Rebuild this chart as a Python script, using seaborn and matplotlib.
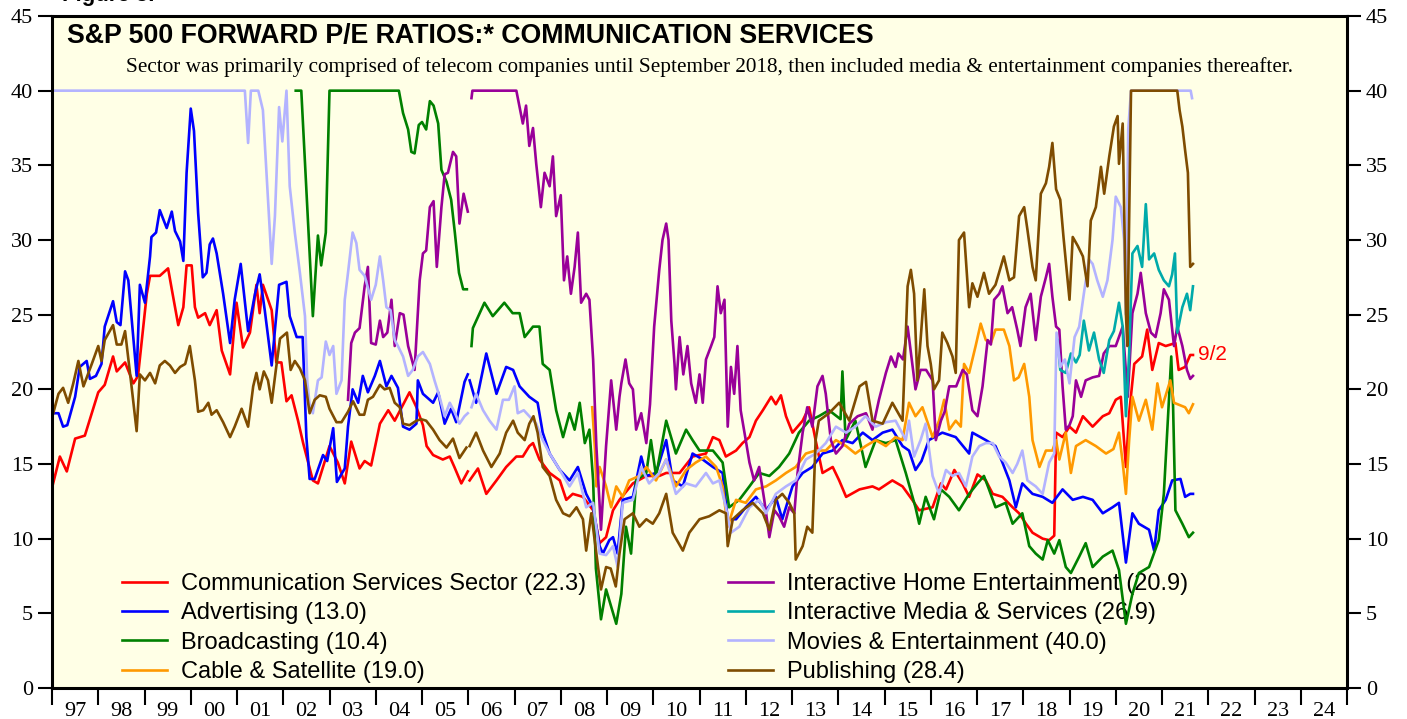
import numpy as np
import pandas as pd
import matplotlib
matplotlib.use("Agg")
import matplotlib.pyplot as plt
import seaborn as sns

nan = np.nan

# --- data (decimal year, forward P/E, capped at 40) ---
comm_t = [1997.0, 1997.17, 1997.32, 1997.5, 1997.71, 1998.0, 1998.14, 1998.32, 1998.4, 1998.58, 1998.76, 1998.86,
          1999.05, 1999.12, 1999.33, 1999.51, 1999.59, 1999.73, 1999.84, 1999.91, 2000.02, 2000.09, 2000.16, 2000.31,
          2000.41, 2000.56, 2000.67, 2000.85, 2000.99, 2001.13, 2001.28, 2001.42, 2001.49, 2001.56, 2001.75, 2001.85,
          2001.96, 2002.07, 2002.18, 2002.32, 2002.43, 2002.64, 2002.75, 2003.0, 2003.18, 2003.33, 2003.47, 2003.65,
          2003.76, 2003.9, 2004.09, 2004.27, 2004.41, 2004.73, 2004.88, 2005.02, 2005.1, 2005.24, 2005.45, 2005.6,
          2005.7, 2005.85, 2005.99, 2006.01, 2006.03, 2006.21, 2006.39, 2006.61, 2006.82, 2007.04, 2007.18, 2007.32,
          2007.4, 2007.54, 2007.76, 2007.98, 2008.12, 2008.26, 2008.48, 2008.7, 2008.84, 2008.98, 2009.13, 2009.27,
          2009.56, 2009.85, 2010.13, 2010.28, 2010.57, 2010.85, 2011.14, 2011.29, 2011.43, 2011.57, 2011.79, 2011.93,
          2012.08, 2012.22, 2012.37, 2012.55, 2012.65, 2012.76, 2012.87, 2013.01, 2013.23, 2013.37, 2013.51, 2013.66,
          2013.88, 2014.02, 2014.17, 2014.46, 2014.74, 2014.88, 2015.17, 2015.39, 2015.6, 2015.75, 2016.04, 2016.22,
          2016.33, 2016.51, 2016.69, 2016.83, 2017.01, 2017.19, 2017.34, 2017.55, 2017.77, 2017.91, 2018.06, 2018.2,
          2018.42, 2018.56, 2018.67, 2018.71, 2018.85, 2019.0, 2019.14, 2019.29, 2019.5, 2019.72, 2019.86, 2020.0,
          2020.11, 2020.22, 2020.29, 2020.4, 2020.57, 2020.68, 2020.79, 2020.93, 2021.08, 2021.29, 2021.36, 2021.5,
          2021.61, 2021.67]
comm_v = [13.4, 15.5, 14.5, 16.7, 16.9, 19.8, 20.3, 22.2, 21.2, 21.8, 20.4, 20.9,
          26.4, 27.6, 27.6, 28.1, 26.7, 24.3, 25.5, 28.3, 28.3, 25.5, 24.8, 25.1,
          24.3, 25.3, 22.6, 21.0, 25.8, 22.8, 23.8, 27.0, 25.1, 27.0, 25.3, 21.8,
          21.8, 19.2, 19.6, 17.9, 16.4, 13.9, 13.7, 16.2, 15.1, 13.7, 16.5, 14.7,
          15.2, 14.9, 17.7, 18.6, 17.9, 19.8, 18.8, 17.6, 16.2, 15.6, 15.3, 15.5,
          14.8, 13.7, 14.5, nan, 13.9, 14.7, 13.0, 13.9, 14.8, 15.5, 15.5, 16.2,
          16.4, 15.3, 14.4, 13.9, 12.6, 13.0, 12.8, 11.9, 9.7, 10.1, 11.9, 12.6,
          13.7, 14.2, 14.2, 14.4, 14.4, 15.5, 15.7, 16.8, 16.6, 15.5, 15.9, 16.4,
          16.8, 17.9, 18.6, 19.5, 19.0, 19.6, 18.2, 17.1, 17.9, 18.8, 16.6, 14.4,
          14.8, 13.9, 12.8, 13.3, 13.5, 13.3, 13.9, 13.5, 12.6, 11.9, 12.1, 13.7,
          13.3, 14.6, 13.7, 12.8, 14.3, 13.9, 13.0, 12.8, 12.1, 11.7, 11.0, 10.4,
          10.0, 9.9, 10.2, 17.1, 16.8, 17.5, 17.1, 18.2, 17.5, 18.2, 18.4, 19.3,
          19.5, 14.8, 18.4, 21.7, 22.2, 24.0, 21.3, 23.1, 22.9, 23.1, 21.3, 21.5,
          22.3, 22.3]

adv_t = [1997.0, 1997.14, 1997.24, 1997.33, 1997.5, 1997.6, 1997.75, 1997.82, 1997.95, 1998.07, 1998.14, 1998.32,
         1998.4, 1998.48, 1998.58, 1998.65, 1998.83, 1998.9, 1999.01, 1999.12, 1999.15, 1999.25, 1999.33, 1999.48,
         1999.59, 1999.66, 1999.77, 1999.84, 1999.91, 2000.0, 2000.07, 2000.16, 2000.26, 2000.34, 2000.41, 2000.48,
         2000.56, 2000.7, 2000.85, 2000.95, 2001.08, 2001.24, 2001.39, 2001.49, 2001.6, 2001.75, 2001.91, 2002.07,
         2002.14, 2002.29, 2002.42, 2002.5, 2002.57, 2002.68, 2002.86, 2002.95, 2003.08, 2003.16, 2003.33, 2003.4,
         2003.5, 2003.62, 2003.72, 2003.83, 2003.98, 2004.09, 2004.23, 2004.34, 2004.48, 2004.59, 2004.73, 2004.88,
         2004.91, 2005.02, 2005.24, 2005.35, 2005.49, 2005.63, 2005.74, 2005.92, 2005.99, 2006.01, 2006.03, 2006.17,
         2006.39, 2006.61, 2006.82, 2006.97, 2007.11, 2007.32, 2007.5, 2007.61, 2007.76, 2007.98, 2008.19, 2008.37,
         2008.55, 2008.7, 2008.84, 2008.91, 2009.05, 2009.13, 2009.23, 2009.34, 2009.56, 2009.74, 2009.85, 2010.06,
         2010.28, 2010.42, 2010.64, 2010.85, 2011.07, 2011.29, 2011.5, 2011.61, 2011.79, 2012.0, 2012.22, 2012.44,
         2012.65, 2012.79, 2013.01, 2013.23, 2013.44, 2013.66, 2013.88, 2014.09, 2014.31, 2014.53, 2014.74, 2014.96,
         2015.17, 2015.39, 2015.53, 2015.67, 2015.8, 2015.96, 2016.25, 2016.54, 2016.83, 2016.9, 2017.19, 2017.4,
         2017.55, 2017.7, 2017.84, 2017.98, 2018.2, 2018.42, 2018.63, 2018.85, 2019.07, 2019.29, 2019.5, 2019.72,
         2019.93, 2020.07, 2020.22, 2020.36, 2020.5, 2020.72, 2020.83, 2020.93, 2021.08, 2021.22, 2021.4, 2021.5,
         2021.61, 2021.67]
adv_v = [18.4, 18.4, 17.5, 17.6, 19.5, 21.5, 21.9, 20.7, 20.9, 21.7, 24.2, 25.9,
         24.5, 24.3, 27.9, 27.3, 20.9, 27.0, 25.8, 28.9, 30.2, 30.5, 32.0, 30.8,
         31.9, 30.6, 29.9, 28.6, 34.5, 38.8, 37.3, 31.8, 27.5, 27.8, 29.7, 30.1,
         29.1, 26.4, 23.1, 26.0, 28.4, 23.9, 26.4, 27.7, 25.3, 21.6, 27.0, 27.2,
         24.9, 23.5, 23.5, 16.8, 14.0, 14.0, 15.6, 15.2, 17.4, 13.8, 14.7, 17.5,
         20.0, 19.1, 20.9, 19.8, 20.9, 21.9, 20.2, 20.9, 20.1, 17.5, 17.3, 17.7,
         20.6, 19.7, 19.1, 19.8, 17.7, 18.7, 17.8, 20.5, 21.0, nan, 20.6, 19.1,
         22.4, 19.7, 21.5, 21.3, 20.2, 19.5, 19.1, 17.1, 15.7, 14.6, 13.9, 14.8,
         13.0, 12.1, 9.5, 9.0, 9.9, 10.1, 9.0, 12.6, 12.8, 15.5, 14.2, 14.4,
         16.6, 13.9, 13.5, 15.7, 15.3, 14.8, 14.4, 11.3, 11.3, 12.1, 12.8, 11.9,
         12.8, 11.3, 13.5, 14.4, 14.8, 15.7, 15.9, 16.6, 16.4, 17.1, 16.6, 17.1,
         17.3, 16.2, 15.9, 14.6, 15.2, 16.6, 17.1, 16.8, 15.7, 17.1, 16.6, 16.2,
         15.1, 13.9, 12.1, 13.7, 13.0, 12.8, 12.4, 13.3, 12.6, 12.8, 12.6, 11.7,
         12.1, 12.4, 8.4, 11.7, 11.0, 10.6, 9.2, 11.9, 12.6, 13.9, 14.0, 12.8,
         13.0, 13.0]

broad_t = [2002.27, 2002.39, 2002.64, 2002.75, 2002.82, 2002.92, 2003.0, 2004.5, 2004.59, 2004.7, 2004.77, 2004.84,
           2004.93, 2005.0, 2005.09, 2005.17, 2005.25, 2005.35, 2005.42, 2005.53, 2005.63, 2005.71, 2005.8, 2005.89,
           2005.97, 2006.02, 2006.07, 2006.1, 2006.35, 2006.53, 2006.78, 2006.96, 2007.11, 2007.22, 2007.4, 2007.54,
           2007.61, 2007.76, 2007.9, 2008.05, 2008.19, 2008.3, 2008.41, 2008.52, 2008.62, 2008.7, 2008.76, 2008.87,
           2008.98, 2009.2, 2009.31, 2009.41, 2009.52, 2009.63, 2009.85, 2009.95, 2010.06, 2010.28, 2010.49, 2010.71,
           2010.85, 2011.0, 2011.29, 2011.5, 2011.64, 2011.86, 2012.08, 2012.29, 2012.51, 2012.72, 2012.94, 2013.15,
           2013.37, 2013.58, 2013.8, 2014.05, 2014.09, 2014.16, 2014.37, 2014.59, 2014.81, 2015.03, 2015.24, 2015.46,
           2015.67, 2015.75, 2015.89, 2016.07, 2016.22, 2016.4, 2016.61, 2016.83, 2017.01, 2017.15, 2017.26, 2017.4,
           2017.62, 2017.77, 2017.98, 2018.13, 2018.27, 2018.42, 2018.53, 2018.67, 2018.78, 2018.92, 2019.03, 2019.21,
           2019.35, 2019.5, 2019.72, 2019.93, 2020.07, 2020.22, 2020.36, 2020.5, 2020.72, 2020.93, 2021.04, 2021.15,
           2021.2, 2021.24, 2021.29, 2021.44, 2021.58, 2021.67]
broad_v = [40.0, 40.0, 24.9, 30.3, 28.3, 30.5, 40.0, 40.0, 38.5, 37.4, 35.9, 35.8,
           37.7, 37.9, 37.4, 39.3, 39.0, 37.8, 34.7, 33.9, 32.7, 30.5, 27.8, 26.7,
           26.7, nan, 22.9, 24.1, 25.8, 24.9, 25.8, 25.1, 25.1, 23.5, 24.2, 24.2,
           21.7, 21.3, 18.6, 16.8, 18.4, 17.3, 19.1, 16.4, 17.3, 13.9, 8.0, 4.6,
           6.6, 4.3, 6.3, 10.8, 9.0, 13.9, 14.4, 16.6, 14.2, 17.9, 15.7, 17.3,
           16.6, 15.9, 15.9, 15.1, 12.1, 12.6, 13.5, 14.4, 14.2, 14.8, 15.7, 17.1,
           17.9, 18.2, 18.6, 18.0, 21.2, 16.6, 17.9, 14.8, 16.6, 16.4, 16.6, 14.4,
           12.1, 11.0, 12.8, 11.3, 13.3, 12.8, 11.9, 13.0, 13.7, 14.2, 13.3, 12.1,
           12.4, 11.0, 11.7, 9.5, 9.0, 8.6, 9.9, 9.0, 9.9, 8.1, 7.7, 8.8,
           9.7, 8.1, 8.8, 9.2, 7.9, 4.3, 6.3, 7.7, 8.1, 9.9, 13.0, 19.3,
           22.2, 18.8, 11.9, 11.0, 10.1, 10.4]

cable_t = [2008.68, 2008.74, 2008.77, 2008.84, 2008.98, 2009.09, 2009.2, 2009.34, 2009.48, 2009.7, 2009.85, 2010.06,
           2010.28, 2010.49, 2010.71, 2010.92, 2011.14, 2011.36, 2011.5, 2011.61, 2011.79, 2012.0, 2012.22, 2012.44,
           2012.65, 2012.87, 2013.08, 2013.3, 2013.51, 2013.73, 2013.95, 2014.17, 2014.37, 2014.59, 2014.81, 2015.03,
           2015.24, 2015.39, 2015.53, 2015.67, 2015.82, 2016.04, 2016.18, 2016.29, 2016.4, 2016.54, 2016.65, 2016.72,
           2016.83, 2016.97, 2017.08, 2017.19, 2017.3, 2017.4, 2017.58, 2017.7, 2017.8, 2017.9, 2018.02, 2018.13,
           2018.2, 2018.35, 2018.49, 2018.63, 2018.71, 2018.78, 2018.92, 2019.03, 2019.14, 2019.35, 2019.57, 2019.79,
           2019.95, 2020.07, 2020.15, 2020.22, 2020.29, 2020.36, 2020.5, 2020.65, 2020.79, 2020.9, 2021.0, 2021.18,
           2021.26, 2021.5, 2021.58, 2021.67]
cable_v = [18.8, 16.0, 13.5, 14.8, 13.5, 12.1, 13.5, 12.8, 13.9, 14.2, 14.8, 13.9,
           15.3, 13.5, 14.6, 15.1, 15.5, 14.8, 13.5, 10.8, 12.6, 12.4, 13.3, 13.5,
           13.9, 14.4, 14.8, 15.7, 15.9, 15.9, 16.6, 16.2, 15.7, 16.2, 16.6, 16.2,
           16.8, 16.6, 19.1, 18.2, 18.8, 16.8, 17.9, 19.3, 17.3, 17.9, 17.5, 21.7,
           21.1, 22.9, 24.4, 23.3, 23.1, 24.0, 24.0, 22.9, 20.6, 20.8, 21.7, 19.5,
           16.6, 14.8, 15.9, 15.9, 16.6, 15.3, 17.1, 14.4, 16.2, 16.6, 16.2, 15.7,
           16.0, 17.1, 15.1, 13.0, 16.6, 19.5, 17.9, 19.3, 17.3, 20.4, 18.8, 20.6,
           19.1, 18.8, 18.4, 19.0]

home_t = [2003.4, 2003.47, 2003.55, 2003.65, 2003.76, 2003.83, 2003.9, 2004.0, 2004.09, 2004.16, 2004.25, 2004.34,
          2004.41, 2004.52, 2004.6, 2004.7, 2004.84, 2004.95, 2005.02, 2005.09, 2005.17, 2005.25, 2005.32, 2005.42,
          2005.49, 2005.56, 2005.67, 2005.74, 2005.81, 2005.9, 2005.99, 2006.03, 2006.07, 2006.09, 2007.04, 2007.11,
          2007.18, 2007.25, 2007.32, 2007.4, 2007.47, 2007.57, 2007.65, 2007.76, 2007.83, 2007.9, 2008.0, 2008.07,
          2008.14, 2008.22, 2008.3, 2008.37, 2008.44, 2008.55, 2008.62, 2008.7, 2008.77, 2008.87, 2008.98, 2009.09,
          2009.2, 2009.27, 2009.31, 2009.4, 2009.48, 2009.56, 2009.63, 2009.74, 2009.85, 2009.93, 2010.02, 2010.13,
          2010.2, 2010.28, 2010.33, 2010.39, 2010.46, 2010.49, 2010.57, 2010.65, 2010.74, 2010.82, 2010.92, 2011.0,
          2011.07, 2011.14, 2011.25, 2011.32, 2011.39, 2011.46, 2011.54, 2011.61, 2011.68, 2011.75, 2011.82, 2011.89,
          2012.0, 2012.08, 2012.18, 2012.29, 2012.4, 2012.51, 2012.62, 2012.72, 2012.83, 2012.94, 2013.05, 2013.12,
          2013.23, 2013.33, 2013.44, 2013.55, 2013.66, 2013.73, 2013.84, 2013.95, 2014.09, 2014.24, 2014.42, 2014.6,
          2014.74, 2014.88, 2015.03, 2015.14, 2015.24, 2015.3, 2015.4, 2015.5, 2015.67, 2015.78, 2015.9, 2016.04,
          2016.11, 2016.22, 2016.3, 2016.4, 2016.55, 2016.69, 2016.78, 2016.9, 2017.01, 2017.12, 2017.23, 2017.3,
          2017.37, 2017.48, 2017.55, 2017.66, 2017.76, 2017.87, 2017.94, 2018.05, 2018.16, 2018.27, 2018.38, 2018.49,
          2018.56, 2018.63, 2018.71, 2018.78, 2018.85, 2018.92, 2019.0, 2019.07, 2019.14, 2019.25, 2019.35, 2019.5,
          2019.64, 2019.74, 2019.86, 2020.0, 2020.15, 2020.26, 2020.36, 2020.47, 2020.54, 2020.65, 2020.76, 2020.86,
          2020.97, 2021.04, 2021.15, 2021.26, 2021.33, 2021.44, 2021.54, 2021.61, 2021.67]
home_v = [19.3, 23.1, 23.8, 24.1, 26.9, 28.2, 23.1, 23.0, 24.6, 23.5, 23.8, 26.0,
          22.9, 25.1, 25.0, 22.9, 21.3, 27.3, 29.1, 29.3, 32.2, 32.6, 28.2, 32.2,
          34.4, 34.5, 35.9, 35.6, 31.1, 33.1, 31.9, nan, 39.5, 40.0, 40.0, 38.9,
          37.8, 39.0, 36.3, 37.5, 35.1, 32.2, 34.5, 33.6, 35.6, 31.6, 33.0, 27.3,
          28.9, 26.4, 28.2, 30.5, 25.8, 26.4, 26.0, 22.0, 16.2, 10.6, 16.2, 20.6,
          17.3, 19.5, 20.4, 22.0, 20.4, 20.0, 17.3, 18.4, 16.4, 19.0, 24.2, 28.0,
          30.0, 31.1, 30.0, 24.6, 21.7, 20.0, 23.5, 21.0, 22.9, 20.4, 19.1, 21.0,
          19.1, 22.0, 22.9, 23.5, 26.9, 25.1, 26.0, 17.5, 21.5, 19.7, 22.9, 18.6,
          16.6, 15.1, 13.9, 14.8, 12.6, 10.1, 11.9, 11.5, 10.8, 12.1, 11.7, 14.4,
          17.1, 18.8, 17.5, 20.2, 20.9, 19.7, 16.6, 15.7, 16.2, 17.7, 18.2, 18.4,
          17.3, 19.3, 21.1, 22.2, 21.5, 22.4, 22.0, 24.2, 20.0, 21.3, 21.3, 20.6,
          16.6, 17.9, 18.5, 20.2, 20.2, 21.3, 21.0, 18.6, 18.2, 20.2, 23.3, 23.0,
          26.0, 26.4, 26.9, 25.1, 25.5, 24.0, 22.9, 25.5, 26.4, 23.3, 26.2, 27.5,
          28.4, 26.2, 24.2, 24.0, 20.2, 17.3, 17.6, 18.2, 20.6, 19.5, 20.6, 20.8,
          20.9, 22.4, 22.9, 22.9, 24.2, 19.5, 25.1, 26.4, 27.8, 25.1, 23.8, 23.5,
          25.1, 26.7, 26.0, 22.9, 24.2, 22.9, 21.3, 20.7, 20.9]

media_t = [2018.74, 2018.8, 2018.92, 2019.03, 2019.14, 2019.22, 2019.31, 2019.42, 2019.53, 2019.64, 2019.74, 2019.86,
           2019.96, 2020.07, 2020.15, 2020.22, 2020.29, 2020.36, 2020.47, 2020.57, 2020.65, 2020.72, 2020.83, 2020.93,
           2021.04, 2021.15, 2021.22, 2021.28, 2021.33, 2021.44, 2021.54, 2021.61, 2021.67]
media_v = [23.3, 21.3, 21.1, 22.4, 21.8, 22.3, 24.6, 22.6, 23.8, 22.0, 21.1, 23.3,
           23.9, 25.8, 24.2, 18.2, 22.4, 29.1, 29.6, 28.2, 32.4, 28.7, 29.1, 28.0,
           27.3, 26.9, 27.7, 29.1, 23.8, 25.5, 26.4, 25.3, 26.9]

movies_t = [1997.0, 2001.17, 2001.24, 2001.3, 2001.46, 2001.56, 2001.75, 2001.82, 2001.91, 2001.98, 2002.07, 2002.14,
            2002.25, 2002.36, 2002.47, 2002.52, 2002.57, 2002.64, 2002.75, 2002.83, 2002.92, 2003.0, 2003.08, 2003.15,
            2003.26, 2003.33, 2003.4, 2003.5, 2003.58, 2003.65, 2003.76, 2003.9, 2004.0, 2004.09, 2004.16, 2004.23,
            2004.32, 2004.41, 2004.48, 2004.59, 2004.7, 2004.8, 2004.91, 2005.02, 2005.17, 2005.27, 2005.38, 2005.49,
            2005.6, 2005.7, 2005.81, 2005.92, 2005.99, 2006.03, 2006.07, 2006.17, 2006.32, 2006.46, 2006.61, 2006.75,
            2006.88, 2007.0, 2007.07, 2007.2, 2007.32, 2007.47, 2007.61, 2007.76, 2007.98, 2008.19, 2008.37, 2008.55,
            2008.7, 2008.84, 2008.98, 2009.13, 2009.23, 2009.34, 2009.56, 2009.74, 2009.91, 2010.13, 2010.28, 2010.49,
            2010.71, 2010.92, 2011.14, 2011.29, 2011.43, 2011.57, 2011.68, 2011.86, 2012.08, 2012.29, 2012.44, 2012.65,
            2012.87, 2013.08, 2013.3, 2013.51, 2013.73, 2013.95, 2014.17, 2014.37, 2014.59, 2014.81, 2015.03, 2015.24,
            2015.46, 2015.53, 2015.64, 2015.78, 2015.89, 2016.04, 2016.18, 2016.33, 2016.47, 2016.61, 2016.76, 2016.9,
            2017.05, 2017.19, 2017.34, 2017.48, 2017.62, 2017.77, 2017.87, 2017.98, 2018.09, 2018.27, 2018.42, 2018.56,
            2018.67, 2018.72, 2018.8, 2018.9, 2019.0, 2019.11, 2019.21, 2019.31, 2019.42, 2019.5, 2019.6, 2019.72,
            2019.82, 2019.93, 2020.0, 2020.11, 2020.18, 2020.22, 2020.27, 2020.33, 2021.62, 2021.65]
movies_v = [40.0, 40.0, 36.5, 40.0, 40.0, 38.7, 28.4, 31.6, 38.9, 36.6, 40.0, 33.6,
            30.5, 27.8, 24.9, 20.5, 19.0, 18.4, 20.6, 20.8, 23.2, 22.3, 22.9, 19.7,
            20.6, 26.0, 27.8, 30.5, 29.8, 28.0, 27.6, 26.0, 27.0, 28.9, 27.3, 25.5,
            25.3, 23.3, 22.9, 22.2, 20.9, 21.3, 22.2, 22.5, 21.7, 20.6, 19.5, 18.2,
            19.1, 18.5, 17.7, 18.2, 18.4, nan, 18.8, 19.7, 18.6, 17.9, 17.3, 19.3,
            19.3, 20.2, 18.4, 18.6, 18.2, 17.7, 16.6, 15.7, 14.6, 13.5, 14.4, 12.1,
            12.4, 9.0, 8.9, 9.5, 8.1, 12.4, 12.6, 14.8, 13.7, 14.4, 15.3, 13.0,
            13.7, 13.5, 14.4, 13.7, 13.9, 12.1, 10.4, 10.8, 12.1, 12.6, 11.7, 13.0,
            13.5, 13.9, 15.3, 15.7, 16.4, 17.5, 17.1, 17.5, 18.2, 17.5, 17.8, 17.9,
            16.6, 17.9, 15.5, 16.6, 17.7, 14.2, 13.0, 14.6, 14.2, 14.4, 13.5, 15.5,
            16.2, 16.4, 16.4, 15.5, 15.1, 14.4, 15.0, 15.9, 13.9, 13.5, 13.0, 15.1,
            15.7, 23.8, 21.5, 22.0, 20.4, 23.5, 24.2, 26.4, 28.7, 28.4, 27.3, 26.2,
            27.3, 30.0, 32.9, 32.2, 30.0, 25.0, 37.4, 40.0, 40.0, 39.5]

pub_t = [1997.0, 1997.14, 1997.24, 1997.35, 1997.46, 1997.57, 1997.68, 1997.86, 1998.0, 1998.07, 1998.14, 1998.32,
         1998.4, 1998.5, 1998.58, 1998.72, 1998.83, 1998.9, 1999.01, 1999.12, 1999.23, 1999.33, 1999.44, 1999.55,
         1999.66, 1999.77, 1999.88, 1999.98, 2000.09, 2000.16, 2000.27, 2000.38, 2000.45, 2000.56, 2000.7, 2000.85,
         2000.95, 2001.1, 2001.24, 2001.35, 2001.42, 2001.49, 2001.58, 2001.67, 2001.75, 2001.84, 2001.93, 2002.08,
         2002.16, 2002.25, 2002.36, 2002.47, 2002.57, 2002.68, 2002.79, 2002.92, 2003.0, 2003.15, 2003.26, 2003.4,
         2003.51, 2003.65, 2003.75, 2003.83, 2003.94, 2004.09, 2004.19, 2004.3, 2004.41, 2004.52, 2004.59, 2004.73,
         2004.88, 2004.98, 2005.09, 2005.24, 2005.38, 2005.53, 2005.67, 2005.81, 2005.96, 2006.0, 2006.03, 2006.17,
         2006.32, 2006.5, 2006.68, 2006.82, 2006.97, 2007.07, 2007.22, 2007.32, 2007.41, 2007.5, 2007.61, 2007.76,
         2007.9, 2008.05, 2008.19, 2008.34, 2008.48, 2008.55, 2008.66, 2008.77, 2008.87, 2008.98, 2009.08, 2009.19,
         2009.27, 2009.38, 2009.56, 2009.7, 2009.85, 2009.99, 2010.13, 2010.28, 2010.42, 2010.64, 2010.78, 2011.0,
         2011.21, 2011.43, 2011.57, 2011.61, 2011.72, 2011.93, 2012.15, 2012.37, 2012.51, 2012.65, 2012.79, 2012.94,
         2013.05, 2013.08, 2013.23, 2013.33, 2013.44, 2013.51, 2013.58, 2013.8, 2014.02, 2014.24, 2014.46, 2014.6,
         2014.74, 2014.96, 2015.17, 2015.39, 2015.5, 2015.57, 2015.64, 2015.71, 2015.78, 2015.86, 2015.93, 2016.0,
         2016.07, 2016.18, 2016.25, 2016.36, 2016.47, 2016.54, 2016.61, 2016.72, 2016.83, 2016.9, 2017.01, 2017.15,
         2017.26, 2017.4, 2017.58, 2017.7, 2017.8, 2017.91, 2018.02, 2018.09, 2018.2, 2018.27, 2018.38, 2018.49,
         2018.56, 2018.63, 2018.71, 2018.8, 2018.87, 2019.0, 2019.07, 2019.18, 2019.29, 2019.39, 2019.46, 2019.57,
         2019.68, 2019.75, 2019.86, 2019.96, 2020.04, 2020.07, 2020.15, 2020.22, 2020.25, 2020.33, 2021.33, 2021.38,
         2021.44, 2021.5, 2021.56, 2021.61, 2021.67]
pub_v = [18.1, 19.7, 20.1, 19.1, 20.4, 21.9, 20.2, 21.7, 22.9, 21.9, 23.3, 24.3,
         23.0, 23.0, 23.9, 20.2, 17.2, 21.0, 20.6, 21.1, 20.4, 21.6, 21.9, 21.6,
         21.1, 21.5, 21.7, 22.9, 20.6, 18.5, 18.6, 19.1, 18.3, 18.6, 17.8, 16.8,
         17.5, 18.7, 17.5, 20.2, 21.1, 20.0, 21.2, 20.6, 19.1, 21.3, 23.4, 23.8,
         21.3, 21.9, 21.4, 20.6, 18.4, 19.3, 19.6, 19.5, 18.7, 17.8, 17.8, 18.5,
         19.2, 18.3, 18.3, 19.3, 19.5, 20.3, 20.0, 20.1, 19.1, 18.8, 17.7, 17.6,
         17.9, 18.0, 17.9, 17.3, 16.6, 16.1, 16.7, 15.4, 16.1, nan, 16.2, 17.1,
         15.9, 14.8, 15.7, 17.1, 17.9, 17.1, 16.6, 17.7, 18.2, 17.1, 14.8, 14.2,
         12.6, 11.7, 11.5, 12.1, 11.3, 9.2, 11.7, 9.0, 6.6, 8.1, 8.0, 6.8,
         9.0, 11.3, 11.7, 10.8, 11.3, 11.0, 11.7, 13.0, 10.4, 9.2, 10.4, 11.3,
         11.5, 11.9, 11.7, 9.5, 11.3, 11.9, 12.4, 11.7, 10.6, 12.6, 13.0, 12.4,
         11.7, 8.6, 9.5, 10.8, 10.4, 16.6, 17.9, 18.4, 19.1, 17.9, 20.2, 20.5,
         17.9, 17.7, 19.1, 17.9, 26.9, 28.0, 26.4, 20.6, 23.3, 26.7, 22.9, 21.7,
         20.0, 20.6, 23.8, 23.1, 22.2, 21.1, 30.0, 30.5, 25.5, 27.1, 26.2, 27.8,
         26.4, 27.0, 28.9, 27.3, 27.5, 31.6, 32.2, 30.7, 28.2, 27.3, 33.1, 33.8,
         34.9, 36.5, 33.4, 32.7, 30.2, 26.0, 30.2, 29.6, 28.9, 26.9, 31.3, 32.2,
         34.9, 33.1, 35.6, 37.6, 38.3, 35.1, 37.8, 25.1, 22.9, 40.0, 40.0, 38.7,
         37.6, 36.0, 34.5, 28.2, 28.4]

labels = ["Communication Services Sector (22.3)", "Advertising (13.0)", "Broadcasting (10.4)",
          "Cable & Satellite (19.0)", "Interactive Home Entertainment (20.9)",
          "Interactive Media & Services (26.9)", "Movies & Entertainment (40.0)", "Publishing (28.4)"]
colors = ["#FF0000", "#0000FF", "#008000", "#FF9900", "#990099", "#00AAAA", "#B3B3FF", "#7F4C00"]
series = [(comm_t, comm_v), (adv_t, adv_v), (broad_t, broad_v), (cable_t, cable_v),
          (home_t, home_v), (media_t, media_v), (movies_t, movies_v), (pub_t, pub_v)]

year_ticks = list(range(1997, 2026))
year_labels = ["%02d" % (y % 100) for y in range(1997, 2025)]

# long table, a new segment starts after each gap (nan)
rows = []
for name, (t, v) in zip(labels, series):
    seg = 0
    for ti, vi in zip(t, v):
        if np.isnan(vi):
            seg += 1
            continue
        rows.append((name, seg, ti, vi))
df = pd.DataFrame(rows, columns=["series", "seg", "date", "pe"])

plt.rcParams["font.family"] = ["Liberation Serif", "DejaVu Serif"]

fig = plt.figure(figsize=(14.07, 7.19), dpi=100)
ax = fig.add_axes([52 / 1407, 1 - 688 / 719, 1295 / 1407, 672 / 719])
ax.set_facecolor("#FFFFE6")

sns.lineplot(data=df, x="date", y="pe", hue="series", hue_order=labels, units="seg",
             estimator=None, sort=False, palette=dict(zip(labels, colors)),
             linewidth=1.9, ax=ax, legend=True)

ax.set_xlim(1997, 2025)
ax.set_ylim(0, 45)
ax.set_xlabel("")
ax.set_ylabel("")

ax.set_yticks(range(0, 46, 5))
ax.tick_params(axis="y", which="major", direction="out", length=10, width=1.5, pad=3.5,
               labelsize=16, left=True, right=True, labelleft=True, labelright=True)
ax.set_xticks(year_ticks)
ax.set_xticklabels([])
ax.set_xticks([y + 0.5 for y in range(1997, 2025)], minor=True)
ax.set_xticklabels(year_labels, minor=True)
ax.tick_params(axis="x", which="major", direction="out", length=12, width=1.5)
ax.tick_params(axis="x", which="minor", length=0, pad=10, labelsize=16)

for s in ax.spines.values():
    s.set_linewidth(2.2)
    s.set_color("black")

handles, _ = ax.get_legend_handles_labels()
for h in handles:
    h.set_linewidth(1.9)
leg = ax.legend(handles, labels, ncol=2, loc="upper left", frameon=False,
                bbox_to_anchor=(122 / 1407, 1 - 573 / 719), bbox_transform=fig.transFigure,
                borderpad=0, borderaxespad=0, handlelength=1.9, handletextpad=0.6,
                columnspacing=6.02, labelspacing=0.31,
                prop={"family": "Liberation Sans", "size": 17})
leg.set_zorder(1)

ax.text(2021.78, 22.3, "9/2", color="#FF0000", fontsize=15, family="Liberation Sans",
        va="center", ha="left")

fig.text(67 / 1407, 1 - 36 / 719, "S&P 500 FORWARD P/E RATIOS:* COMMUNICATION SERVICES",
         fontsize=19.3, fontweight="bold", family="Liberation Sans", va="center", ha="left")
fig.text(710 / 1407, 1 - 67 / 719,
         "Sector was primarily comprised of telecom companies until September 2018, "
         "then included media & entertainment companies thereafter.",
         fontsize=15.3, family="Liberation Serif", va="center", ha="center")
fig.text(62 / 1407, 1 - 1 / 719, "Figure 5.", fontsize=16, fontweight="bold",
         family="Liberation Sans", va="baseline", ha="left")

fig.savefig("out.png", dpi=100, facecolor="white")
